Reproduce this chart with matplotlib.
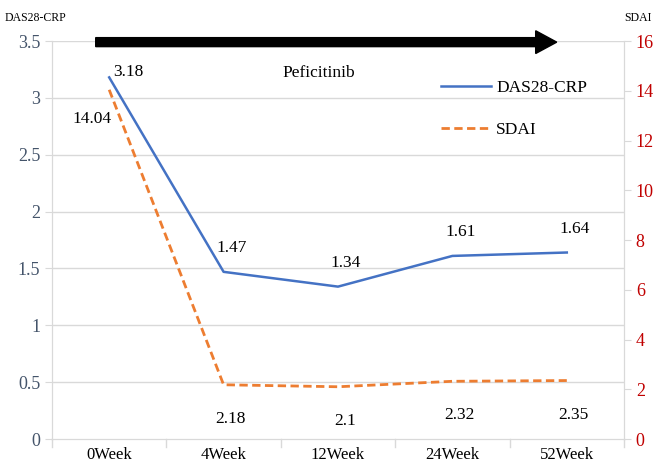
import matplotlib.pyplot as plt
from matplotlib.patches import FancyArrow

weeks = ["0Week", "4Week", "12Week", "24Week", "52Week"]
das28 = [3.18, 1.47, 1.34, 1.61, 1.64]
sdai = [14.04, 2.18, 2.1, 2.32, 2.35]

plt.rcParams["font.family"] = ["Liberation Serif", "DejaVu Serif"]

fig = plt.figure(figsize=(6.56, 4.66), dpi=100)
ax = fig.add_axes([52 / 656, 1 - 439 / 466, 572 / 656, 398 / 466])
ax2 = ax.twinx()

x = list(range(len(weeks)))
ax.set_xlim(-0.5, len(weeks) - 0.5)
ax.set_ylim(0, 3.5)
ax2.set_ylim(0, 16)

grid_c = "#D9D9D9"
for v in [0.5 * i for i in range(1, 8)]:
    ax.axhline(v, color=grid_c, lw=1, zorder=0)

l1, = ax.plot(x, das28, color="#4472C4", lw=1.8, label="DAS28-CRP", zorder=3)
l2, = ax2.plot(x, sdai, color="#ED7D31", lw=2, ls=(0, (3, 1.6)), label="SDAI", zorder=3)

ax.set_yticks([0.5 * i for i in range(8)])
ax.set_yticklabels(["0", "0.5", "1", "1.5", "2", "2.5", "3", "3.5"])
ax2.set_yticks(range(0, 17, 2))
ax.tick_params(axis="y", labelcolor="#44546A", labelsize=13, length=5, color=grid_c)
ax2.tick_params(axis="y", labelcolor="#C00000", labelsize=13, length=5, color=grid_c)

ax.set_xticks(x)
ax.set_xticklabels(weeks, fontsize=12)
ax.tick_params(axis="x", length=0, pad=6)
for b in [i - 0.5 for i in range(len(weeks) + 1)]:
    ax.plot([b, b], [0, -0.07], color=grid_c, lw=1, clip_on=False)

for a in (ax, ax2):
    a.spines["top"].set_visible(False)
    for s in ("left", "right", "bottom"):
        a.spines[s].set_color(grid_c)

# value labels
ax.text(0.035, das28[0] - 0.02, "3.18", fontsize=12.5, ha="left", va="bottom")
for i in range(1, len(weeks)):
    ax.text(i + 0.07, das28[i] + 0.14, f"{das28[i]}", fontsize=12.5, ha="center", va="bottom")
ax2.text(0.024, sdai[0] - 0.85, f"{sdai[0]}", fontsize=12.5, ha="right", va="top")
for i in range(1, len(weeks)):
    ax2.text(i + 0.06, sdai[i] - 1.05, f"{sdai[i]}", fontsize=12.5, ha="center", va="top")

# arrow at top
arrow = FancyArrow(-0.118, 3.49, 4.03, 0, width=0.079, head_width=0.2, head_length=0.184,
                   length_includes_head=True, color="black", transform=ax.transData,
                   clip_on=False, zorder=5)
ax.add_patch(arrow)

ax.text(1.83, 3.22, "Peficitinib", fontsize=12.5, ha="center", va="center")

ax.legend([l1, l2], ["DAS28-CRP", "SDAI"], loc="upper left", bbox_to_anchor=(0.652, 0.942),
          frameon=False, fontsize=12.5, handlelength=2.9, labelspacing=1.5, handletextpad=0.3)

fig.text(5 / 656, 1 - 18 / 466, "DAS28-CRP", fontsize=8.5, ha="left", va="center")
fig.text(652 / 656, 1 - 18 / 466, "SDAI", fontsize=8.5, ha="right", va="center")

fig.savefig("out.png", dpi=100)
